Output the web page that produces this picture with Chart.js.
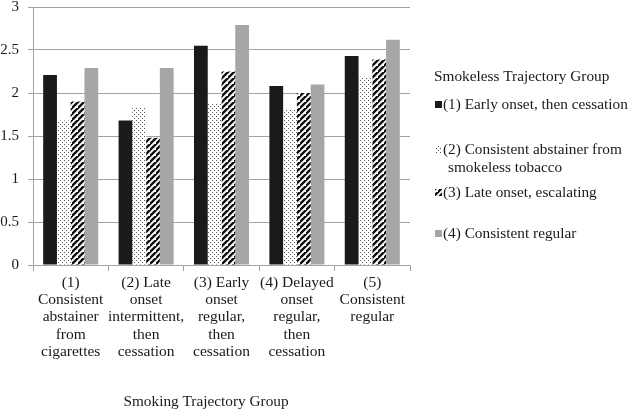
<!DOCTYPE html>
<html>
<head>
<meta charset="utf-8">
<script src="https://cdn.jsdelivr.net/npm/chart.js@4.4.0/dist/chart.umd.min.js"></script>
<style>
  html, body { margin: 0; padding: 0; background: #fff; }
  #wrap { position: relative; width: 628px; height: 411px; }
</style>
</head>
<body>
<div id="wrap"><canvas id="chart" width="628" height="411"></canvas></div>
<script>
// Smoking trajectory groups (x categories)
const categories = [
    ['(1)', 'Consistent', 'abstainer', 'from', 'cigarettes'],
    ['(2) Late', 'onset', 'intermittent,', 'then', 'cessation'],
    ['(3) Early', 'onset', 'regular,', 'then', 'cessation'],
    ['(4) Delayed', 'onset', 'regular,', 'then', 'cessation'],
    ['(5)', 'Consistent', 'regular']
];

// Smokeless trajectory groups (series)
const seriesNames = [
    ['(1) Early onset, then cessation'],
    ['(2) Consistent abstainer from', 'smokeless tobacco'],
    ['(3) Late onset, escalating'],
    ['(4) Consistent regular']
];
const earlyCessation = [2.21, 1.68, 2.55, 2.08, 2.43];
const consistentAbstainer = [1.68, 1.83, 1.88, 1.81, 2.19];
const lateEscalating = [1.90, 1.48, 2.25, 2.00, 2.39];
const consistentRegular = [2.29, 2.29, 2.79, 2.10, 2.62];

const yTicks = [0, 0.5, 1, 1.5, 2, 2.5, 3];
const legendTitle = 'Smokeless Trajectory Group';
const xTitle = 'Smoking Trajectory Group';

const FONT = "'Liberation Serif', 'Times New Roman', serif";
const TEXT = '#1a1a1a';
const GRID = '#a3a3a3';

// Fill patterns
function makeDots() {
    const c = document.createElement('canvas');
    c.width = 4; c.height = 4;
    const g = c.getContext('2d');
    g.fillStyle = '#fff';
    g.fillRect(0, 0, 4, 4);
    g.fillStyle = '#555';
    g.fillRect(0, 0, 1, 1);
    g.fillRect(2, 2, 1, 1);
    return g.createPattern(c, 'repeat');
}

function makeHatch() {
    const s = 6;
    const c = document.createElement('canvas');
    c.width = s; c.height = s;
    const g = c.getContext('2d');
    g.fillStyle = '#fff';
    g.fillRect(0, 0, s, s);
    g.strokeStyle = '#111';
    g.lineWidth = 2.4;
    g.beginPath();
    g.moveTo(-1, s + 1); g.lineTo(s + 1, -1);
    g.moveTo(-1 - s, s + 1); g.lineTo(1, -1);
    g.moveTo(s - 1, 2 * s + 1); g.lineTo(2 * s + 1, s - 1);
    g.stroke();
    return g.createPattern(c, 'repeat');
}

const fills = ['#1a1a1a', makeDots(), makeHatch(), '#a6a6a6'];
const seriesData = [earlyCessation, consistentAbstainer, lateEscalating, consistentRegular];

// Legend at the right side and x-axis title
const sideLegend = {
    id: 'sideLegend',
    afterDraw(chart) {
        const ctx = chart.ctx;
        const x = 434;
        const rows = [105, 150, 193, 234];
        ctx.save();
        ctx.font = '15.3px ' + FONT;
        ctx.fillStyle = TEXT;
        ctx.textBaseline = 'middle';
        ctx.textAlign = 'left';
        ctx.fillText(legendTitle, x, 77);
        seriesNames.forEach((lines, i) => {
            const y = rows[i];
            ctx.fillStyle = fills[i];
            ctx.fillRect(x + 1, y - 4, 7, 7);
            ctx.fillStyle = TEXT;
            lines.forEach((t, k) => {
                ctx.fillText(t, k === 0 ? x + 9 : x + 14, y + k * 18);
            });
        });
        ctx.textAlign = 'center';
        ctx.fillText(xTitle, 206, 402);
        ctx.restore();
    }
};

function initChart() {
    const ctx = document.getElementById('chart').getContext('2d');
    new Chart(ctx, {
        type: 'bar',
        data: {
            labels: categories,
            datasets: seriesData.map((d, i) => ({
                label: seriesNames[i].join(' '),
                data: d,
                backgroundColor: fills[i],
                borderWidth: 0,
                categoryPercentage: 0.73,
                barPercentage: 1.0
            }))
        },
        options: {
            responsive: false,
            animation: false,
            layout: { padding: { top: 7, right: 218, left: 0, bottom: 0 } },
            plugins: {
                legend: { display: false },
                tooltip: { enabled: false }
            },
            scales: {
                y: {
                    min: 0,
                    max: 3,
                    afterBuildTicks: (s) => { s.ticks = yTicks.map(v => ({ value: v })); },
                    afterFit: (s) => {
                        s.width = 33;
                        s.paddingTop = 0;
                        s.paddingBottom = 0;
                    },
                    grid: { color: GRID, tickLength: 5 },
                    border: { color: GRID },
                    ticks: {
                        padding: 9,
                        color: TEXT,
                        font: { family: FONT, size: 15 },
                        callback: (v) => String(v)
                    }
                },
                x: {
                    afterFit: (s) => {
                        s.height = 146;
                        s.paddingTop = 0;
                        s.paddingBottom = 0;
                    },
                    grid: { color: GRID, drawOnChartArea: false, tickLength: 6, offset: true },
                    border: { color: GRID },
                    ticks: {
                        padding: 3,
                        maxRotation: 0,
                        autoSkip: false,
                        color: TEXT,
                        font: { family: FONT, size: 15.5, lineHeight: 1.12 }
                    }
                }
            }
        },
        plugins: [sideLegend]
    });
}

initChart();
</script>
</body>
</html>
